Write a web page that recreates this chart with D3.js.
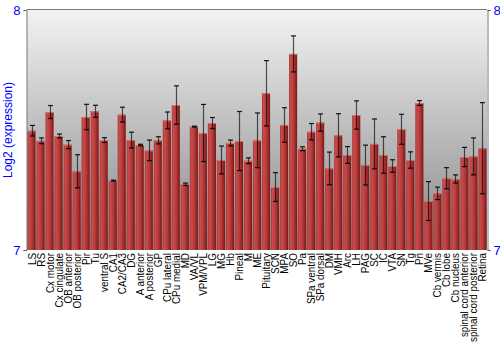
<!DOCTYPE html>
<html><head><meta charset="utf-8">
<script src="https://cdn.jsdelivr.net/npm/d3@7"></script>
<style>body{margin:0;background:#fff}svg{display:block;font-family:"Liberation Sans",Arial,sans-serif}</style>
</head><body>
<svg id="c" width="500" height="350"></svg>
<script>
const categories = ["LS","RS","Cx motor","Cx cingulate","OB anterior","OB posterior","Pir","Tu","ventral S","CA1","CA2/CA3","DG","A anterior","A posterior","GP","CPu lateral","CPu medial","MD","VA/VL","VPM/VPL","LG","MG","Hb","Pineal","M","ME","Pituitary","SCN","MPA","SO","Pa","SPa ventral","SPa dorsal","DM","VMH","Arc","LH","PAG","SC","IC","VTA","SN","Tg","Pn","MVe","Cb vermis","Cb lobe","Cb nucleus","spinal cord anterior","spinal cord posterior","Retina"];
const values = [7.497,7.455,7.575,7.475,7.439,7.328,7.554,7.578,7.458,7.289,7.564,7.458,7.4375,7.415,7.457,7.540,7.604,7.274,7.514,7.4875,7.529,7.375,7.446,7.454,7.372,7.457,7.653,7.2625,7.521,7.817,7.422,7.493,7.531,7.340,7.478,7.396,7.5625,7.354,7.442,7.396,7.35,7.503,7.375,7.6125,7.204,7.236,7.299,7.296,7.3875,7.39,7.424];
const errors = [0.022,0.012,0.027,0.008,0.017,0.069,0.053,0.025,0.010,0.002,0.031,0.033,0.003,0.043,0.015,0.035,0.080,0.005,0.002,0.119,0.023,0.058,0.012,0.123,0.012,0.114,0.136,0.060,0.072,0.075,0.008,0.034,0.036,0.068,0.090,0.035,0.059,0.083,0.104,0.076,0.026,0.0625,0.034,0.010,0.081,0.026,0.044,0.017,0.040,0.077,0.19];
const yDomain = [7, 8];
const yTicks = [7, 8];
const yLabel = "Log2 (expression)";

const svg = d3.select("#c");
const L = 27, R = 487, T = 10, B = 250;
const x = d3.scaleBand().domain(categories).range([L, R]).paddingInner(0.1).paddingOuter(0.05);
const y = d3.scaleLinear().domain(yDomain).range([B, T]);

const defs = svg.append("defs");
const bg = defs.append("linearGradient").attr("id","bg").attr("x1",0).attr("y1",0).attr("x2",0).attr("y2",1);
bg.append("stop").attr("offset","0%").attr("stop-color","#f3f3f3");
bg.append("stop").attr("offset","100%").attr("stop-color","#868686");
const bar = defs.append("linearGradient").attr("id","bar").attr("x1",0).attr("y1",0).attr("x2",1).attr("y2",0);
bar.append("stop").attr("offset","0%").attr("stop-color","#a83636");
bar.append("stop").attr("offset","20%").attr("stop-color","#c84c4c");
bar.append("stop").attr("offset","55%").attr("stop-color","#b83a3a");
bar.append("stop").attr("offset","100%").attr("stop-color","#7a1818");

svg.append("rect").attr("x",L).attr("y",T).attr("width",R-L).attr("height",B-T).attr("fill","url(#bg)");

svg.append("g").selectAll("rect").data(categories).join("rect")
  .attr("x", d => x(d)).attr("width", x.bandwidth())
  .attr("y", (d,i) => y(values[i])).attr("height", (d,i) => B - y(values[i]))
  .attr("fill","url(#bar)");
svg.append("g").selectAll("line").data(categories).join("line")
  .attr("x1", d => x(d)).attr("x2", d => x(d)+x.bandwidth())
  .attr("y1", (d,i) => y(values[i])+0.5).attr("y2", (d,i) => y(values[i])+0.5)
  .attr("stroke","#d87070").attr("stroke-width",1);

const eb = svg.append("g").attr("stroke","#000").attr("stroke-opacity",0.65);
categories.forEach((c,i) => {
  const cx = Math.round(x(c) + x.bandwidth()/2) + 0.5;
  const y1 = y(values[i]+errors[i]), y2 = y(values[i]-errors[i]);
  eb.append("line").attr("x1",cx).attr("x2",cx).attr("y1",y1).attr("y2",y2).attr("stroke-width",1.2);
  eb.append("line").attr("x1",cx-2.5).attr("x2",cx+2.5).attr("y1",y1).attr("y2",y1).attr("stroke-width",1.2).attr("stroke-opacity",0.9);
  eb.append("line").attr("x1",cx-2.5).attr("x2",cx+2.5).attr("y1",y2).attr("y2",y2).attr("stroke-width",1.2).attr("stroke-opacity",0.9);
});

// frame
svg.append("line").attr("x1",L).attr("x2",R).attr("y1",T-0.5).attr("y2",T-0.5).attr("stroke","#777");
const la = svg.append("g").attr("transform",`translate(${L-0.5},0)`).call(d3.axisLeft(y).tickValues(yTicks).tickFormat(d3.format("d")).tickSize(3));
const ra = svg.append("g").attr("transform",`translate(${R+0.5},0)`).call(d3.axisRight(y).tickValues(yTicks).tickFormat(d3.format("d")).tickSize(3));
[la, ra].forEach(a => {
  a.select(".domain").attr("stroke","#777");
  a.selectAll(".tick line").attr("stroke","#555");
  a.selectAll("text").attr("fill","#0000ff").attr("font-size",13).attr("font-family","Liberation Sans, Arial, sans-serif");
});

svg.append("text").attr("transform",`translate(12,${(T+B)/2}) rotate(-90)`).attr("text-anchor","middle")
  .attr("fill","#0000ff").attr("font-size",12).text(yLabel);

svg.append("g").selectAll("text").data(categories).join("text")
  .attr("transform", d => `translate(${x(d)+x.bandwidth()/2+4},${B+3}) rotate(-90) scale(0.86,1)`)
  .attr("text-anchor","end").attr("font-size",11.5).attr("fill","#000").text(d => d);
</script>
</body></html>
